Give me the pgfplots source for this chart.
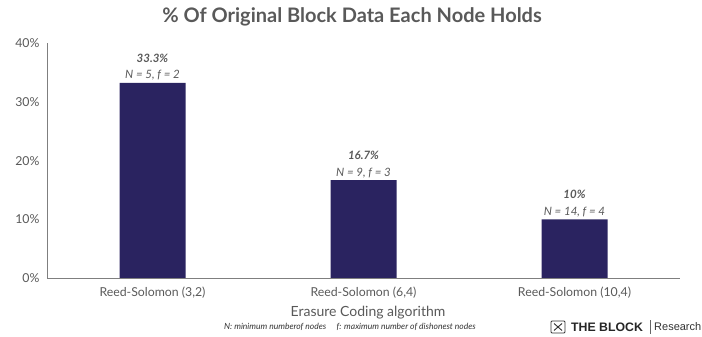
\documentclass[border=0pt]{standalone}
\usepackage{pgfplots}
\pgfplotsset{compat=1.18}
\usepackage{fontspec}
\setmainfont{Lato}
\newfontfamily\arialf{Liberation Sans}
\definecolor{barc}{HTML}{2A2360}
\definecolor{txtgray}{HTML}{595959}
\definecolor{axgray}{HTML}{7F7F7F}
\newcommand\lbl[2]{{\bfseries #1}\\[2.5pt]#2}
\begin{document}
\begin{tikzpicture}[x=1pt,y=1pt]
\useasboundingbox (0,0) rectangle (702,337);
\begin{axis}[
  at={(47pt,59pt)}, anchor=south west,
  scale only axis, width=633pt, height=234.5pt,
  xmin=-0.5, xmax=2.5, ymin=0, ymax=40,
  axis lines=left, axis line style={axgray, line width=0.8pt, -},
  ytick={0,10,20,30,40}, yticklabels={0\%,10\%,20\%,30\%,40\%},
  xtick={0,1,2}, xticklabels={{Reed-Solomon (3,2)},{Reed-Solomon (6,4)},{Reed-Solomon (10,4)}},
  major tick length=0pt,
  tick label style={font=\fontsize{12.3}{14}\selectfont, text=txtgray},
  yticklabel style={xshift=-4pt},
  xticklabel style={yshift=-5pt},
  ybar, bar width=66pt,
  point meta=explicit symbolic,
  nodes near coords,
  nodes near coords align={vertical},
  every node near coord/.append style={align=center, font=\fontsize{11.5}{14}\selectfont\itshape, text=txtgray, yshift=-1pt},
  clip=false,
]
\addplot[fill=barc, draw=none] coordinates {
  (0,33.3) [\lbl{33.3\%}{N = 5, f = 2}]
  (1,16.7) [\lbl{16.7\%}{N = 9, f = 3}]
  (2,10) [\lbl{10\%}{N = 14, f = 4}]
};
\end{axis}
\node[text=txtgray, font=\fontsize{20}{24}\selectfont\bfseries] at (352,320) {\% Of Original Block Data Each Node Holds};
\node[text=txtgray, font=\fontsize{14}{16}\selectfont] at (368,24) {Erasure Coding algorithm};
\node[text=black!80, font=\fontsize{8.5}{10}\selectfont\itshape] at (350,10) {N: minimum numberof nodes\quad\ f: maximum number of dishonest nodes};
% logo
\begin{scope}[shift={(558,10)}]
\draw[black!80, line width=0.9pt, rounded corners=1pt] (-7,-6) rectangle (7,6);
\draw[black!80, line width=0.9pt] (-4,-3.5) -- (4,3.5) (-4,3.5) -- (4,-3.5);
\end{scope}
\node[anchor=west, inner sep=0pt, font=\arialf\fontsize{12.3}{14}\selectfont\bfseries, text=black!85] at (571,10) {THE BLOCK};
\draw[black!60, line width=0.6pt] (650,3) -- (650,17);
\node[anchor=west, inner sep=0pt, font=\arialf\fontsize{11}{13}\selectfont, text=black!80] at (654,10) {Research};
\end{tikzpicture}
\end{document}
